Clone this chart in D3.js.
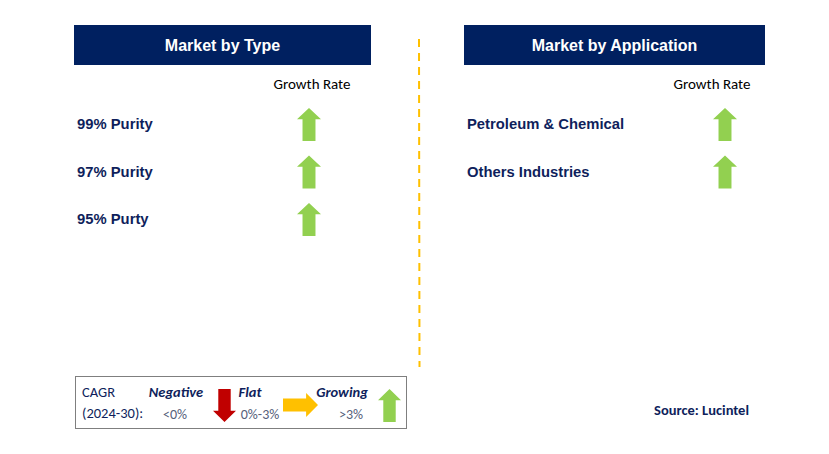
<!DOCTYPE html>
<html><head><meta charset="utf-8">
<script src="https://cdn.jsdelivr.net/npm/d3@7"></script>
<style>body{margin:0;background:#fff}svg{display:block}</style>
</head><body>
<svg id="c" width="829" height="454"></svg>
<script>
const typeCategories = ["99% Purity", "97% Purity", "95% Purty"];
const typeGrowth = ["up", "up", "up"];
const appCategories = ["Petroleum & Chemical", "Others Industries"];
const appGrowth = ["up", "up"];
const panelTitles = ["Market by Type", "Market by Application"];
const legendItems = [
  {label: "Negative", range: "<0%", dir: "down"},
  {label: "Flat", range: "0%-3%", dir: "right"},
  {label: "Growing", range: ">3%", dir: "up"}
];

const svg = d3.select("#c");
const NAVY = "#002060", TXT = "#0f1f5c";
const colors = {up: "#92D050", down: "#C00000", right: "#FFC000"};
const sans = "Liberation Sans, Arial, sans-serif";
const cal = "Carlito, 'Open Sans', 'Noto Sans', sans-serif";

function arrow(g, cx, cy, dir, w, h) {
  const sw = w * 0.54, hh = h * 0.34;
  let pts;
  if (dir === "up") {
    pts = [[0,-h/2],[w/2,-h/2+hh],[sw/2,-h/2+hh],[sw/2,h/2],[-sw/2,h/2],[-sw/2,-h/2+hh],[-w/2,-h/2+hh]];
  } else if (dir === "down") {
    pts = [[0,h/2],[w/2,h/2-hh],[sw/2,h/2-hh],[sw/2,-h/2],[-sw/2,-h/2],[-sw/2,h/2-hh],[-w/2,h/2-hh]];
  } else {
    pts = [[h/2,0],[h/2-hh,-w/2],[h/2-hh,-sw/2],[-h/2,-sw/2],[-h/2,sw/2],[h/2-hh,sw/2],[h/2-hh,w/2]];
  }
  g.append("path").attr("d", d3.line()(pts.map(p=>[cx+p[0], cy+p[1]])) + "Z")
    .attr("fill", colors[dir]);
}

function panel(x0, x1, title, cats, growth, labelX, arrowX, grX) {
  const g = svg.append("g");
  g.append("rect").attr("x", x0).attr("y", 25).attr("width", x1 - x0).attr("height", 40).attr("fill", NAVY);
  g.append("text").attr("x", (x0 + x1) / 2).attr("y", 51).attr("text-anchor", "middle")
    .attr("fill", "#fff").attr("font-family", sans).attr("font-weight", "bold").attr("font-size", 16).text(title);
  g.append("text").attr("x", grX).attr("y", 89).attr("text-anchor", "middle")
    .attr("fill", "#000").attr("font-family", cal).attr("font-size", 15).text("Growth Rate");
  const y = d3.scalePoint().domain(cats).range([124, 124 + 47.5 * (cats.length - 1)]);
  cats.forEach((c, i) => {
    g.append("text").attr("x", labelX).attr("y", y(c) + 5).attr("fill", TXT)
      .attr("font-family", sans).attr("font-weight", "bold").attr("font-size", 14.8).text(c);
    arrow(g, arrowX, y(c) + 0.5, growth[i], 24, 33);
  });
}

panel(74, 371, panelTitles[0], typeCategories, typeGrowth, 77, 309, 312);
panel(464, 765, panelTitles[1], appCategories, appGrowth, 467, 725, 712);

svg.append("line").attr("x1", 419).attr("x2", 419.5).attr("y1", 39).attr("y2", 367)
  .attr("stroke", "#FFC000").attr("stroke-width", 2).attr("stroke-dasharray", "8,6");

const lg = svg.append("g");
lg.append("rect").attr("x", 75.5).attr("y", 376.5).attr("width", 331).attr("height", 52)
  .attr("fill", "#fff").attr("stroke", "#7f7f7f").attr("stroke-width", 1);
lg.append("text").attr("x", 82).attr("y", 397).attr("fill", TXT).attr("font-family", cal).attr("font-size", 14.5).text("CAGR");
lg.append("text").attr("x", 82).attr("y", 418).attr("fill", TXT).attr("font-family", cal).attr("font-size", 14.5).text("(2024-30):");
const lx = [176, 250, 342], rx = [175, 260, 351];
const ax = [224.5, 300.5, 389.5];
legendItems.forEach((d, i) => {
  lg.append("text").attr("x", lx[i]).attr("y", 397).attr("text-anchor", "middle").attr("fill", TXT)
    .attr("font-family", cal).attr("font-style", "italic").attr("font-weight", "bold").attr("font-size", 14.5).text(d.label);
  lg.append("text").attr("x", rx[i]).attr("y", 419).attr("text-anchor", "middle").attr("fill", "#56607a")
    .attr("font-family", cal).attr("font-size", 14).text(d.range);
  if (d.dir === "right") arrow(lg, ax[i], 405, "right", 24, 35);
  else arrow(lg, ax[i], 405.5, d.dir, 23, 33);
});

svg.append("text").attr("x", 749).attr("y", 415).attr("text-anchor", "end").attr("fill", TXT)
  .attr("font-family", cal).attr("font-weight", "bold").attr("font-size", 14.5).text("Source: Lucintel");
</script>
</body></html>
